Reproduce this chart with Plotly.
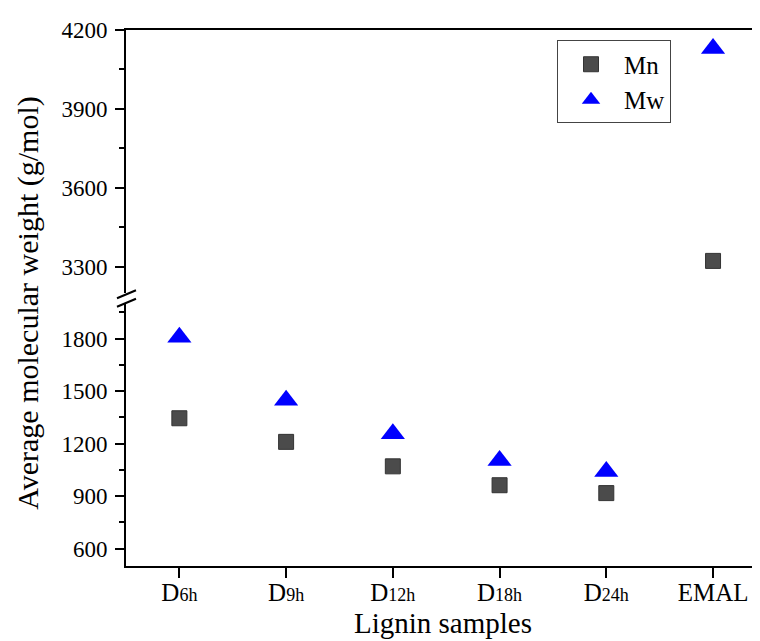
import plotly.graph_objects as go

# ---- data ----
categories = ["D6h", "D9h", "D12h", "D18h", "D24h", "EMAL"]
tick_labels = ['D<span style="font-size:18px">6h</span>',
               'D<span style="font-size:18px">9h</span>',
               'D<span style="font-size:18px">12h</span>',
               'D<span style="font-size:18px">18h</span>',
               'D<span style="font-size:18px">24h</span>',
               "EMAL"]
mn_values = [1345, 1210, 1070, 962, 917, 3323]
mw_values = [1808, 1448, 1257, 1103, 1041, 4130]

lower_range = [500, 2000]
upper_range = [3200, 4200]

# ---- layout constants (page has an 8px body margin) ----
OFF = 8
W, H = 760 - OFF, 641 - OFF
ML, MR, MT, MB = 126 - OFF, 0, 29.5 - OFF, 75
PW, PH = W - ML - MR, H - MT - MB
FONT = "Liberation Serif"

lower_dom = [0, 0.4893]
upper_dom = [0.5088, 1]


def px_to_paper(px, py):
    """page pixel -> paper coordinates"""
    fx, fy = px - OFF, py - OFF
    return (fx - ML) / PW, (H - MB - fy) / PH


fig = go.Figure()

for xa, ya, show in (("x", "y", True), ("x2", "y2", False)):
    fig.add_trace(go.Scatter(
        x=categories, y=mn_values, mode="markers", name="Mn",
        xaxis=xa, yaxis=ya, showlegend=show,
        marker=dict(symbol="square", size=15, color="#4b4b4b",
                    line=dict(color="#333333", width=1)),
    ))
    fig.add_trace(go.Scatter(
        x=categories, y=mw_values, mode="markers", name="Mw",
        xaxis=xa, yaxis=ya, showlegend=show,
        marker=dict(symbol="triangle-up", size=21, color="#0000ff",
                    line=dict(width=0)),
    ))

axis_common = dict(showline=True, linewidth=2, linecolor="black",
                   showgrid=False, zeroline=False, automargin=False,
                   tickfont=dict(family=FONT, size=23, color="black"))

lx, ly = px_to_paper(557, 40)
fig.update_layout(
    width=W, height=H,
    margin=dict(l=ML, r=MR, t=MT, b=MB, autoexpand=False),
    paper_bgcolor="white", plot_bgcolor="white",
    font=dict(family=FONT, color="black"),
    xaxis=dict(showline=True, linewidth=2, linecolor="black",
               showgrid=False, zeroline=False, automargin=False,
               tickfont=dict(family=FONT, size=25, color="black"),
               type="category", categoryorder="array",
               categoryarray=categories, range=[-0.5, 5.44],
               anchor="y", domain=[0, 1],
               tickmode="array", tickvals=categories, ticktext=tick_labels,
               ticks="outside", ticklen=10, tickwidth=2, tickcolor="black",
               ticklabelstandoff=-7),
    xaxis2=dict(showline=True, linewidth=2, linecolor="black",
                showgrid=False, zeroline=False, matches="x", automargin=False,
                anchor="y2", side="top", showticklabels=False, ticks="",
                type="category"),
    yaxis=dict(**axis_common, domain=lower_dom, range=lower_range,
               anchor="x", tick0=600, dtick=300,
               ticks="outside", ticklen=9, tickwidth=2, tickcolor="black",
               ticklabelstandoff=3,
               minor=dict(ticks="outside", ticklen=5, tickwidth=2,
                          tickcolor="black", dtick=150, tick0=600)),
    yaxis2=dict(**axis_common, domain=upper_dom, range=upper_range,
                anchor="x2", tick0=3300, dtick=300,
                ticks="outside", ticklen=9, tickwidth=2, tickcolor="black",
                ticklabelstandoff=3,
                minor=dict(ticks="outside", ticklen=5, tickwidth=2,
                           tickcolor="black", dtick=150, tick0=3300)),
    legend=dict(x=lx, y=ly, xanchor="left", yanchor="top",
                bgcolor="white", bordercolor="#444444", borderwidth=1,
                font=dict(family=FONT, size=25, color="black"),
                itemsizing="trace", itemwidth=56),
)

# axis titles
tx, ty = px_to_paper(28, 303.5)
fig.add_annotation(text="Average molecular weight (g/mol)", xref="paper",
                   yref="paper", x=tx, y=ty, textangle=-90, showarrow=False,
                   xanchor="center", yanchor="middle",
                   font=dict(family=FONT, size=30, color="black"))
bx, by = px_to_paper(443, 623)
fig.add_annotation(text="Lignin samples", xref="paper", yref="paper",
                   x=bx, y=by, showarrow=False, xanchor="center",
                   yanchor="middle",
                   font=dict(family=FONT, size=29, color="black"))

# axis break marks
for (x0, y0, x1, y1) in ((117, 298, 136, 290), (117, 306.5, 136, 298.5)):
    a0, b0 = px_to_paper(x0, y0)
    a1, b1 = px_to_paper(x1, y1)
    fig.add_shape(type="line", xref="paper", yref="paper",
                  x0=a0, y0=b0, x1=a1, y1=b1,
                  line=dict(color="black", width=2))

fig.write_html("out.html")
